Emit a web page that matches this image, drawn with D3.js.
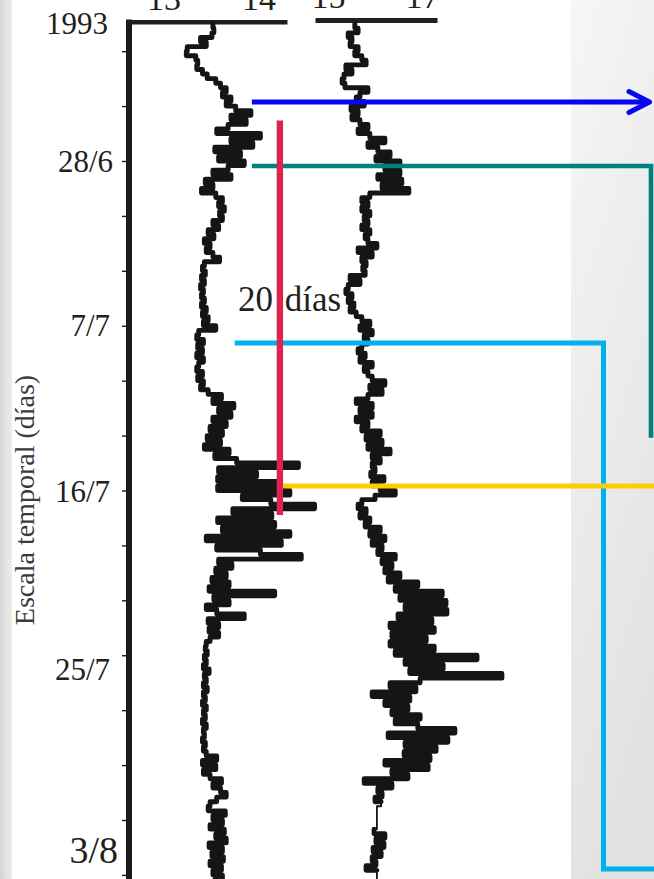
<!DOCTYPE html>
<html><head><meta charset="utf-8">
<script src="https://cdn.jsdelivr.net/npm/d3@7"></script>
<style>html,body{margin:0;padding:0;background:#fff;} svg{display:block;}</style>
</head><body><svg id="c" width="654" height="879"></svg>
<script>
// ---------- DATA ----------
const startTime = new Date(1993, 5, 20, 12);   // first sample
const stepHours = 6;                            // sampling interval
// Series A (left trace, top scale 13–14)
const seriesA = [
 13.52,13.53,13.51,13.39,13.45,13.25,13.24,13.34,13.36,13.35,
 13.41,13.46,13.55,13.60,13.66,13.62,13.71,13.66,13.76,13.92,
 13.71,13.87,13.68,13.56,14.02,13.71,13.94,13.54,13.81,13.58,
 13.85,13.68,13.52,13.71,13.44,13.52,13.40,13.55,13.62,13.58,
 13.64,13.59,13.62,13.52,13.58,13.47,13.53,13.43,13.49,13.45,
 13.52,13.59,13.43,13.41,13.44,13.40,13.43,13.39,13.42,13.40,
 13.43,13.40,13.45,13.41,13.47,13.42,13.55,13.37,13.35,13.42,
 13.36,13.41,13.35,13.42,13.37,13.35,13.41,13.36,13.42,13.39,
 13.47,13.61,13.52,13.74,13.58,13.71,13.52,13.66,13.49,13.62,
 13.46,13.60,13.43,13.69,13.54,13.77,14.42,13.58,13.98,13.57,
 14.21,13.57,14.33,13.83,14.13,14.59,13.73,14.14,13.57,14.17,
 13.62,14.33,13.45,14.24,13.56,14.02,14.45,13.58,13.72,13.55,
 13.66,13.51,13.69,13.48,14.17,13.53,13.69,13.45,13.56,13.85,
 13.47,13.58,13.48,13.58,13.49,13.45,13.44,13.46,13.43,13.45,
 13.42,13.48,13.43,13.45,13.42,13.46,13.42,13.44,13.41,13.45,
 13.42,13.44,13.41,13.45,13.42,13.43,13.41,13.44,13.42,13.45,
 13.56,13.41,13.55,13.42,13.49,13.61,13.52,13.60,13.66,13.56,
 13.49,13.47,13.65,13.52,13.62,13.49,13.64,13.55,13.66,13.48,
 13.62,13.51,13.63,13.49,13.61,13.52,13.62,13.54
];
// Series B (right trace, top scale 15–17)
const seriesB = [
 15.57,15.64,15.43,15.51,15.47,15.64,15.57,15.72,15.81,15.38,
 15.51,15.34,15.30,15.36,15.85,15.68,15.60,15.77,15.49,15.64,
 15.51,15.68,15.85,15.64,15.89,16.21,15.85,16.06,16.32,16.02,
 16.53,16.21,16.53,16.06,16.57,16.15,16.72,15.89,15.72,15.85,
 15.72,15.89,15.77,15.85,15.72,15.89,15.79,15.85,16.04,15.64,
 15.94,15.72,15.81,15.74,15.79,15.47,15.68,15.43,15.38,15.51,
 15.43,15.55,15.47,15.60,15.72,15.89,15.68,15.94,15.77,15.85,
 15.72,15.64,15.79,15.68,15.94,15.77,15.85,15.94,16.21,15.89,
 16.15,15.85,15.60,15.94,15.68,15.94,15.60,15.85,15.72,16.11,
 15.81,16.15,15.85,16.32,15.94,16.11,15.94,16.00,15.91,16.19,
 15.94,16.11,16.43,16.00,15.72,15.64,15.81,15.68,15.89,15.79,
 16.11,15.89,16.21,15.94,16.15,16.06,16.43,16.15,16.36,16.21,
 16.53,16.28,16.91,16.43,17.43,16.53,17.51,16.64,17.53,16.49,
 17.21,16.32,17.26,16.36,17.09,16.32,17.26,16.43,18.17,16.64,
 17.45,16.74,18.70,16.96,16.32,16.87,15.94,16.74,16.21,16.70,
 16.36,16.96,16.43,16.91,17.70,16.28,17.55,16.64,17.30,16.62,
 17.17,16.21,17.13,16.36,16.70,15.77,16.36,16.06,16.15,16.00,
 16.13,16.04,16.04,16.04,16.04,16.04,15.98,16.21,16.02,16.19,
 15.96,16.13,15.94,16.02,15.81,16.04,16.04,16.04
];
// quiet stretches of series B (smooth signal, thin trace)
const thinRangesB = [
  [new Date(1993, 7, 2, 6), new Date(1993, 7, 3, 6)],
  [new Date(1993, 7, 5, 23), new Date(1993, 7, 7)]
];
const axisATicks = [13, 14];
const axisBTicks = [15, 17];
const tickStart = new Date(1993, 5, 22), tickStop = new Date(1993, 7, 7), tickStepDays = 3;
const dateLabels = ["28/6", "7/7", "16/7", "25/7", "3/8"];
const dateLabelDates = [new Date(1993,5,28), new Date(1993,6,7), new Date(1993,6,16), new Date(1993,6,25), new Date(1993,7,3)];
const yearLabel = "1993";
const yTitle = "Escala temporal (días)";
const spanLabel = "20 días";
// annotation events
const arrowDate = new Date(1993, 5, 24, 18, 40);
const tealDates = [new Date(1993, 5, 28, 6, 30), new Date(1993, 6, 13, 3, 0)];
const cyanDates = [new Date(1993, 6, 7, 22, 35), new Date(1993, 7, 5, 16, 15)];
const yellowDate = new Date(1993, 6, 15, 18, 5);
const spanDates = [new Date(1993, 5, 25, 19, 0), new Date(1993, 6, 17, 8, 0)];
const annotStartA = {arrow: 13.93, teal: 13.93, cyan: 13.75, yellow: 14.26, span: 14.225};

// ---------- LAYOUT / STYLE ----------
const W = 654, H = 879;
const serif = "'Palatino Linotype','Book Antiqua',Palatino,'Liberation Serif',serif";
const ink = "#1c1a19";
const labelStyle = [
  {dx: 113, dy: 11, size: 31},
  {dx: 110, dy: 10, size: 31},
  {dx: 110, dy: 11.5, size: 31},
  {dx: 110, dy: 25, size: 31},
  {dx: 118, dy: 43, size: 38}
];

const svg = d3.select("#c");
const defs = svg.append("defs");
const gl = defs.append("linearGradient").attr("id","gl").attr("x1",0).attr("x2",1).attr("y1",0).attr("y2",0);
gl.append("stop").attr("offset","0%").attr("stop-color","#d6d6d6");
gl.append("stop").attr("offset","100%").attr("stop-color","#ededed");
const gr = defs.append("linearGradient").attr("id","gr").attr("x1",0).attr("x2",0.3).attr("y1",0).attr("y2",1);
gr.append("stop").attr("offset","0%").attr("stop-color","#f6f6f6");
gr.append("stop").attr("offset","100%").attr("stop-color","#e2e2e2");

svg.append("rect").attr("width",W).attr("height",H).attr("fill","#ffffff");
svg.append("rect").attr("x",0).attr("y",0).attr("width",12).attr("height",H).attr("fill","url(#gl)");
svg.append("rect").attr("x",571).attr("y",0).attr("width",W-571).attr("height",H).attr("fill","url(#gr)");

// scales
const y = d3.scaleTime().domain([new Date(1993,5,28), new Date(1993,7,3)]).range([161, 820]);
const xA = d3.scaleLinear().domain([12.605, 14.3]).range([126, 287]);
const xB = d3.scaleLinear().domain([14.723, 17.319]).range([315, 437]);

const times = seriesA.map((_, i) => d3.timeHour.offset(startTime, i * stepHours));
const dataA = seriesA.map((v, i) => ({t: times[i], v}));
const dataB = seriesB.map((v, i) => ({t: times[i], v}));

// y title
svg.append("text").attr("x", 34).attr("y", 500)
  .attr("transform","rotate(-90,34,500)")
  .attr("text-anchor","middle").attr("font-family",serif).attr("font-size",28)
  .attr("fill","#3a3a3a").text(yTitle);

// y axis ticks
const dayTicks = d3.timeDay.range(tickStart, tickStop, tickStepDays);
const yAx = svg.append("g").attr("transform","translate(126,0)")
  .call(d3.axisLeft(y).tickValues(dayTicks).tickSize(4).tickFormat(""));
yAx.select(".domain").remove();
yAx.selectAll(".tick line").attr("stroke", ink).attr("stroke-width", 1.4);
svg.append("line").attr("x1",129).attr("x2",129).attr("y1",19.4).attr("y2",H)
  .attr("stroke", ink).attr("stroke-width", 6);

// date labels
svg.append("g").selectAll("text").data(dateLabels).join("text")
  .attr("x", (d,i) => labelStyle[i].dx)
  .attr("y", (d,i) => y(dateLabelDates[i]) + labelStyle[i].dy)
  .attr("text-anchor","end").attr("font-family",serif)
  .attr("font-size",(d,i)=>labelStyle[i].size).attr("fill","#231f20").text(d=>d);
svg.append("text").attr("x",108).attr("y",34).attr("text-anchor","end")
  .attr("font-family",serif).attr("font-size",31).attr("fill","#231f20").text(yearLabel);

// top axes
function topAxis(scale, ticks, yPos, w) {
  const g = svg.append("g").attr("transform",`translate(0,${yPos})`)
    .call(d3.axisTop(scale).tickValues(ticks).tickFormat(d3.format("d"))
      .tickSize(0).tickSizeOuter(0).tickPadding(12));
  g.select(".domain").attr("stroke","#231f20").attr("stroke-width", w);
  g.selectAll("text").attr("font-family",serif).attr("font-size",34).attr("fill","#231f20");
}
topAxis(xA, axisATicks, 21.7, 4.6);
topAxis(xB, axisBTicks, 20, 5);

// traces
const lineA = d3.line().x(d => xA(d.v)).y(d => y(d.t)).curve(d3.curveStepBefore);
const lineB = d3.line().x(d => xB(d.v)).y(d => y(d.t)).curve(d3.curveStepBefore);
const inThin = d => thinRangesB.some(r => d.t >= r[0] && d.t <= r[1]);
const traceInk = "#151515";
svg.append("path").attr("d", lineA(dataA)).attr("fill","none").attr("stroke",traceInk)
  .attr("stroke-width",4.9).attr("stroke-linejoin","round").attr("stroke-linecap","round");
svg.append("path").attr("d", lineB(dataB)).attr("fill","none").attr("stroke",traceInk)
  .attr("stroke-width",1.8).attr("stroke-linejoin","round");
svg.append("path").attr("d", lineB.defined(d => !inThin(d))(dataB)).attr("fill","none").attr("stroke",traceInk)
  .attr("stroke-width",4.9).attr("stroke-linejoin","round").attr("stroke-linecap","round");

// annotations
const ann = svg.append("g").attr("fill","none");
const yArrow = y(arrowDate);
ann.append("path").attr("d", `M${xA(annotStartA.arrow)},${yArrow}H647`)
  .attr("stroke","#0505f0").attr("stroke-width",5);
ann.append("path").attr("d", `M629,${yArrow-10.5}L649.5,${yArrow}L629,${yArrow+10.5}`)
  .attr("stroke","#0505f0").attr("stroke-width",5).attr("stroke-linecap","round").attr("stroke-linejoin","round");
ann.append("path").attr("d", `M${xA(annotStartA.teal)},${y(tealDates[0])}H651V${y(tealDates[1])}`)
  .attr("stroke","#008080").attr("stroke-width",4.6);
ann.append("path").attr("d", `M${xA(annotStartA.cyan)},${y(cyanDates[0])}H603.5V${y(cyanDates[1])}H${W}`)
  .attr("stroke","#00b0f0").attr("stroke-width",5);
ann.append("path").attr("d", `M${xA(annotStartA.yellow)},${y(yellowDate)}H${W}`)
  .attr("stroke","#ffcc00").attr("stroke-width",5);
ann.append("path").attr("d", `M${xA(annotStartA.span)},${y(spanDates[0])}V${y(spanDates[1])}`)
  .attr("stroke","#dc2451").attr("stroke-width",6.4);

svg.append("text").attr("x",238).attr("y",311).attr("font-family",serif).attr("font-size",35)
  .attr("word-spacing",3).attr("fill","#231f20").text(spanLabel);
</script>
</body></html>
